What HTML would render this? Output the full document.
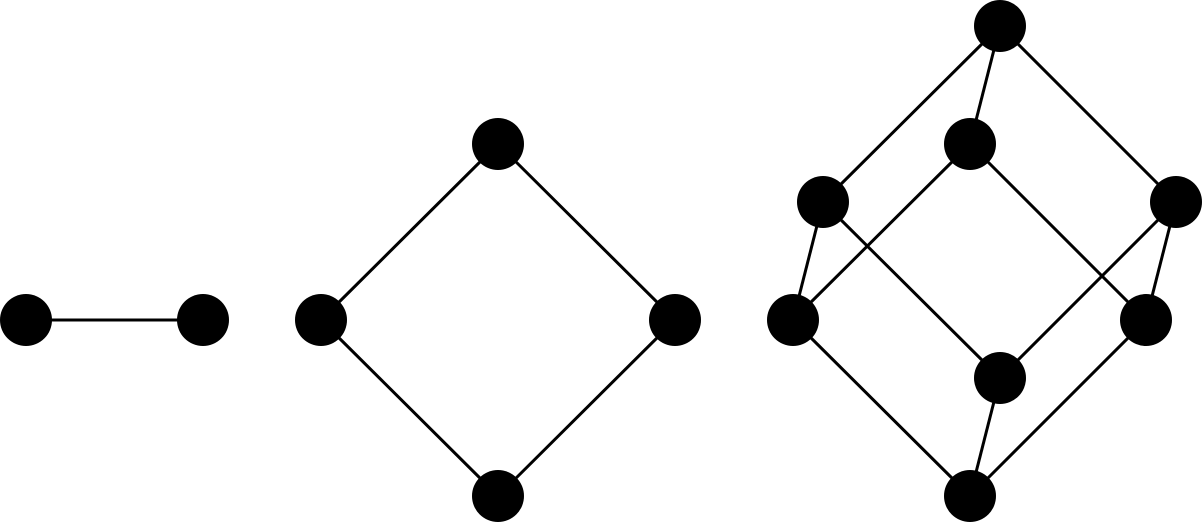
<!DOCTYPE html>
<html><head><meta charset="utf-8"><style>html,body{margin:0;padding:0;background:#fff}svg{display:block}</style></head>
<body>
<svg width="1203" height="524" viewBox="0 0 1203 524" xmlns="http://www.w3.org/2000/svg">
<g stroke="#000" stroke-width="3" fill="none">
<line x1="26" y1="320" x2="203" y2="320"/>
<line x1="498" y1="144" x2="321" y2="320"/>
<line x1="498" y1="144" x2="675" y2="320"/>
<line x1="321" y1="320" x2="498" y2="496"/>
<line x1="675" y1="320" x2="498" y2="496"/>
<line x1="1000" y1="26" x2="823" y2="202"/>
<line x1="1000" y1="26" x2="1176" y2="202"/>
<line x1="1000" y1="26" x2="970" y2="144"/>
<line x1="970" y1="144" x2="793" y2="320"/>
<line x1="970" y1="144" x2="1146" y2="320"/>
<line x1="823" y1="202" x2="793" y2="320"/>
<line x1="823" y1="202" x2="1000" y2="378"/>
<line x1="1176" y1="202" x2="1146" y2="320"/>
<line x1="1176" y1="202" x2="1000" y2="378"/>
<line x1="793" y1="320" x2="970" y2="496"/>
<line x1="1146" y1="320" x2="970" y2="496"/>
<line x1="1000" y1="378" x2="970" y2="496"/>
</g>
<g fill="#000">
<circle cx="26" cy="320" r="26"/>
<circle cx="203" cy="320" r="26"/>
<circle cx="498" cy="144" r="26"/>
<circle cx="321" cy="320" r="26"/>
<circle cx="675" cy="320" r="26"/>
<circle cx="498" cy="496" r="26"/>
<circle cx="1000" cy="26" r="26"/>
<circle cx="970" cy="144" r="26"/>
<circle cx="823" cy="202" r="26"/>
<circle cx="1176" cy="202" r="26"/>
<circle cx="793" cy="320" r="26"/>
<circle cx="1146" cy="320" r="26"/>
<circle cx="1000" cy="378" r="26"/>
<circle cx="970" cy="496" r="26"/>
</g>
</svg>
</body></html>
